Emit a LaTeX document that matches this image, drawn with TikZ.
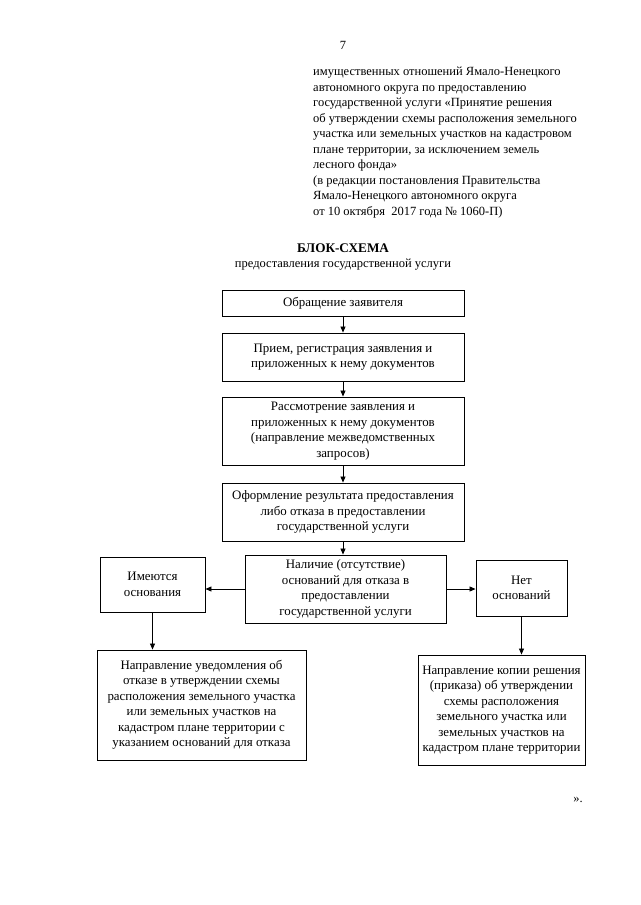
\documentclass[tikz,border=0pt]{standalone}
\usepackage{fontspec}
\setmainfont{Liberation Serif}
\usetikzlibrary{arrows.meta}
\tikzset{
  box/.style={draw, line width=0.9pt, inner sep=0pt, align=center,
    font=\fontsize{12.9}{15.5}\selectfont},
  arr/.style={line width=0.8pt, -{Triangle[length=6pt,width=5pt]}},
  txt/.style={inner sep=0pt, font=\fontsize{12.5}{15.5}\selectfont}
}
\begin{document}
\begin{tikzpicture}[x=1pt,y=-1pt]
\useasboundingbox (0,0) rectangle (640,905);
\node[txt] (pg) at (343,45) {7};
\node[txt, anchor=north west, align=left] (hdr) at (313,67) {имущественных отношений Ямало-Ненецкого\\
автономного округа по предоставлению\\
государственной услуги «Принятие решения\\
об утверждении схемы расположения земельного\\
участка или земельных участков на кадастровом\\
плане территории, за исключением земель\\
лесного фонда»\\
(в редакции постановления Правительства\\
Ямало-Ненецкого автономного округа\\
от 10 октября\ \ 2017 года № 1060-П)};
\node[txt, font=\fontsize{13.2}{15.5}\selectfont\bfseries] (tt) at (343,248) {БЛОК-СХЕМА};
\node[txt] (st) at (343,265) {предоставления государственной услуги};

\node[box, minimum width=242, minimum height=26] (b1) at (343,303) {Обращение заявителя};
\node[box, minimum width=242, minimum height=48] (b2) at (343,357) {Прием, регистрация заявления и\\приложенных к нему документов};
\node[box, minimum width=242, minimum height=68] (b3) at (343,431) {Рассмотрение заявления и\\приложенных к нему документов\\(направление межведомственных\\запросов)};
\node[box, minimum width=242, minimum height=58] (b4) at (343,512) {Оформление результата предоставления\\либо отказа в предоставлении\\государственной услуги};
\node[box, minimum width=201, minimum height=68] (b5) at (345.5,589) {Наличие (отсутствие)\\оснований для отказа в\\предоставлении\\государственной услуги};
\node[box, minimum width=105, minimum height=55] (bl) at (152.5,584.5) {Имеются\\основания};
\node[box, minimum width=91, minimum height=56] (br) at (521.5,588) {Нет\\оснований};
\node[box, minimum width=209, minimum height=110] (dl) at (201.5,705) {Направление уведомления об\\отказе в утверждении схемы\\расположения земельного участка\\или земельных участков на\\кадастром плане территории с\\указанием оснований для отказа};
\node[box, minimum width=167, minimum height=110] (dr) at (501.5,710) {Направление копии решения\\(приказа) об утверждении\\схемы расположения\\земельного участка или\\земельных участков на\\кадастром плане территории};
\node[txt] (end) at (578,800) {».};

\draw[arr] (b1) -- (b2);
\draw[arr] (b2) -- (b3);
\draw[arr] (b3) -- (b4);
\draw[arr] (b4.south) -- (b4.south |- b5.north);
\draw[arr] (b5.west) -- (b5.west -| bl.east);
\draw[arr] (b5.east) -- (b5.east -| br.west);
\draw[arr] (bl.south) -- (bl.south |- dl.north);
\draw[arr] (br.south) -- (br.south |- dr.north);
\end{tikzpicture}
\end{document}
